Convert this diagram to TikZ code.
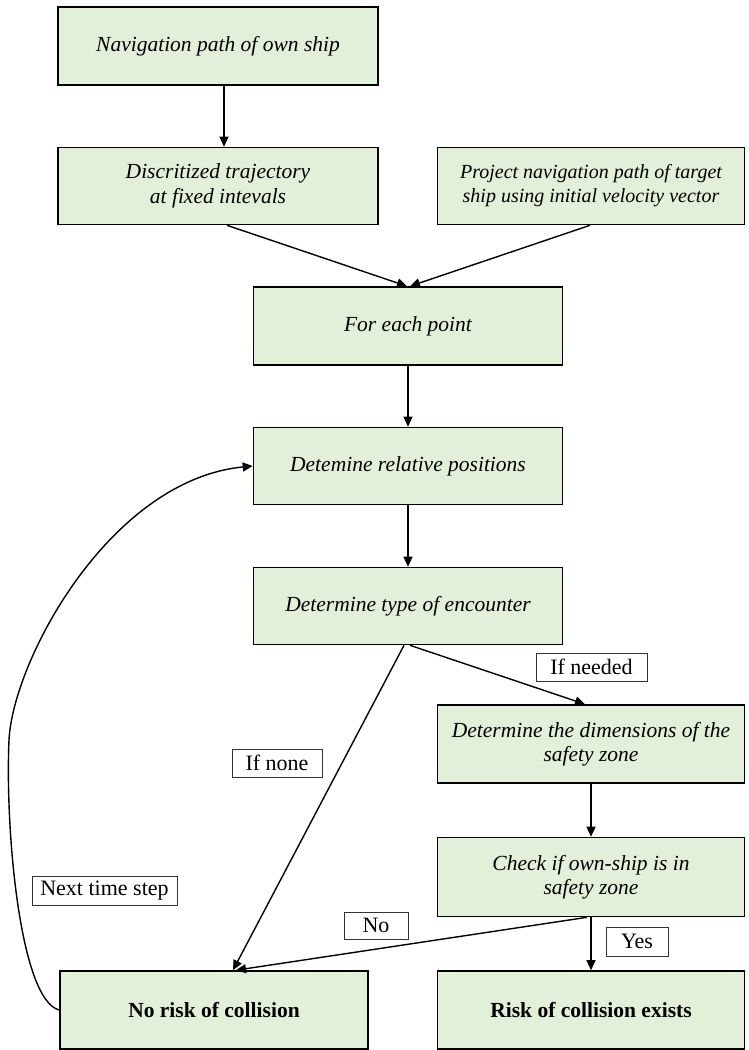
\documentclass[tikz,border=0pt]{standalone}
\usepackage{fontspec}
\setmainfont{Liberation Serif}
\usetikzlibrary{arrows.meta}
\definecolor{boxgreen}{HTML}{E2EFD9}
\begin{document}
\begin{tikzpicture}[x=1pt,y=-1pt,
  every node/.style={font=\fontsize{22}{24.5}\selectfont},
  stepbox/.style={draw, line width=1.6pt, fill=boxgreen, align=center,
    inner sep=0pt, font=\fontsize{21.5}{24.5}\selectfont\itshape},
  endbox/.style={stepbox, font=\fontsize{21.5}{24.5}\selectfont\bfseries},
  tag/.style={draw=black!80, line width=0.8pt, fill=white, inner sep=0pt},
  arr/.style={line width=1.4pt, -{Triangle[length=10pt,width=9pt]}}]
\useasboundingbox (0,0) rectangle (748,1050);

% process boxes
\node[stepbox, minimum width=320, minimum height=78] (nav) at (218,46) {Navigation path of own ship};
\node[stepbox, minimum width=320, minimum height=77] (disc) at (218,186) {Discritized trajectory\\at fixed intevals};
\node[stepbox, minimum width=307, minimum height=77, font=\fontsize{20}{24}\selectfont\itshape] (proj) at (591,186) {Project navigation path of target\\ship using initial velocity vector};
\node[stepbox, minimum width=309, minimum height=78] (each) at (408,326) {For each point};
\node[stepbox, minimum width=309, minimum height=77] (rel) at (408,466) {Detemine relative positions};
\node[stepbox, minimum width=309, minimum height=77] (enc) at (408,606) {Determine type of encounter};
\node[stepbox, minimum width=307, minimum height=78] (dims) at (591,744) {Determine the dimensions of the\\safety zone};
\node[stepbox, minimum width=307, minimum height=79] (check) at (591,877) {Check if own-ship is in\\safety zone};
\node[endbox, minimum width=308, minimum height=78] (norisk) at (214,1010) {No risk of collision};
\node[endbox, minimum width=307, minimum height=78] (risk) at (591,1010) {Risk of collision exists};

% connectors
\draw[arr] ([xshift=6]nav.south) -- ([xshift=6]disc.north);
\draw[arr] ([xshift=9]disc.south) -- ([xshift=-1]each.north);
\draw[arr] ([xshift=-1]proj.south) -- ([xshift=2]each.north);
\draw[arr] (each) -- (rel);
\draw[arr] (rel) -- (enc);
\draw[arr] ([xshift=2]enc.south) -- ([xshift=-6]dims.north);
\draw[arr] ([xshift=-4]enc.south) -- ([xshift=19]norisk.north);
\draw[arr] (dims) -- (check);
\draw[arr] ([xshift=-4]check.south) -- ([xshift=22]norisk.north);
\draw[arr] (check) -- (risk);
% loop back for the next time step
\coordinate (bend) at (9,740);
\draw[arr] (norisk.west) .. controls (20,1000) and (5,830) .. (bend)
  .. controls (13,660) and (110,480) .. (rel.west);

% branch labels
\node[tag, minimum width=111, minimum height=28] (lneed) at (591.5,667) {If needed};
\node[tag, minimum width=90, minimum height=28] (lnone) at (277,763) {If none};
\node[tag, minimum width=145, minimum height=29] (lnext) at (104.5,890.5) {Next time step};
\node[tag, minimum width=64, minimum height=27] (lno) at (376,925.5) {No};
\node[tag, minimum width=62, minimum height=29] (lyes) at (637,941.5) {Yes};
\end{tikzpicture}
\end{document}
